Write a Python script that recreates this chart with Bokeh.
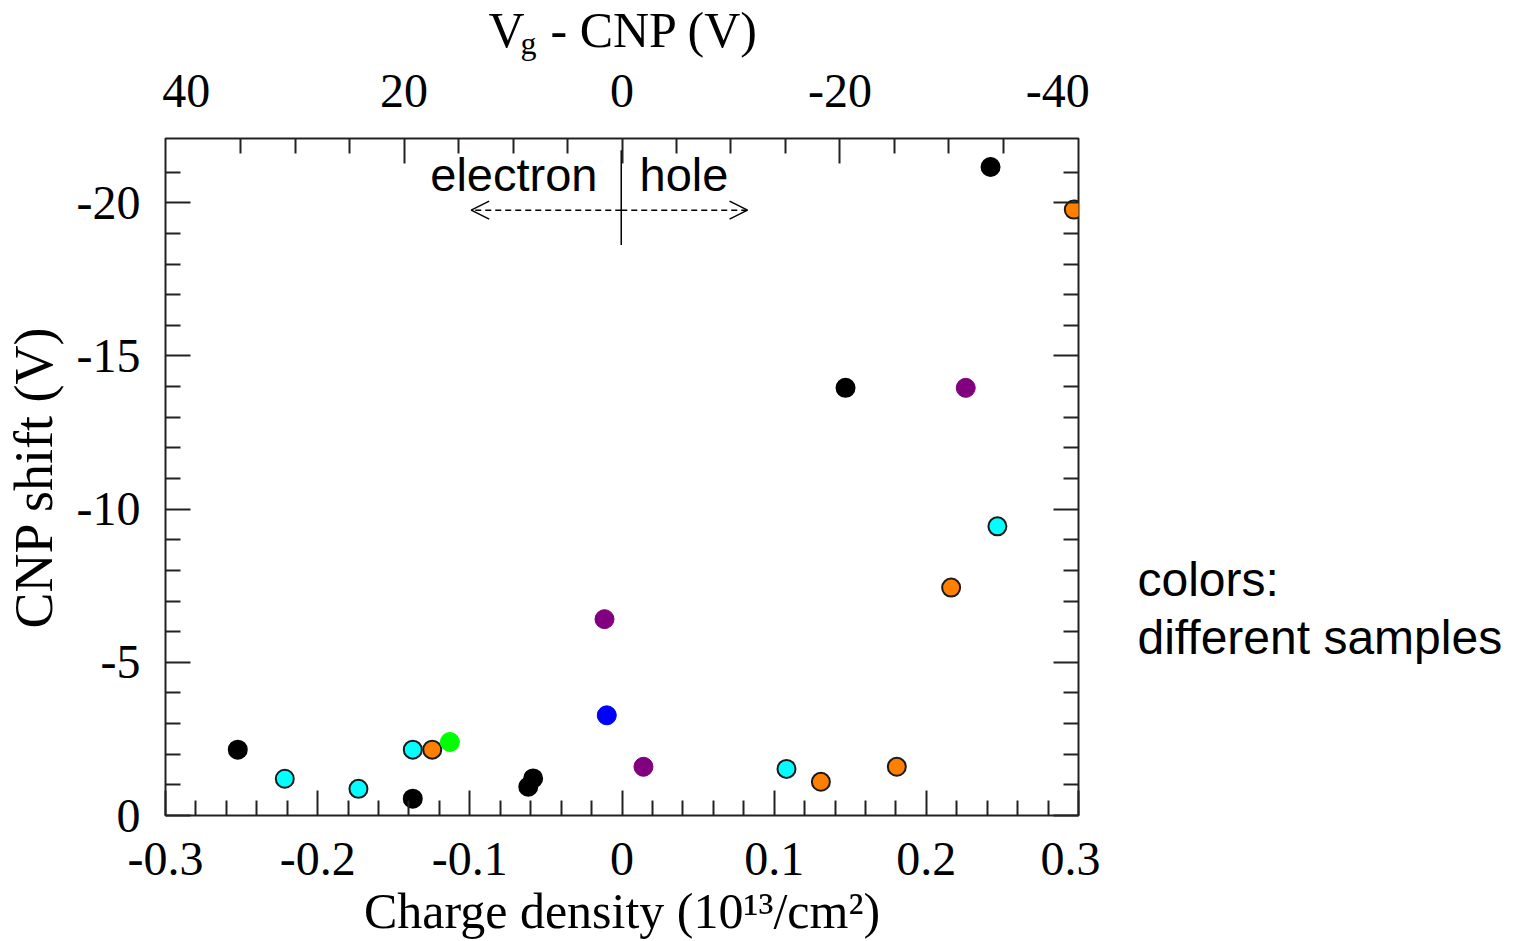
from bokeh.plotting import figure
from bokeh.models import (Range1d, LinearAxis, FixedTicker, Label, Arrow, OpenHead,
                          ColumnDataSource)
from bokeh.layouts import row, column
from bokeh.embed import file_html
from bokeh.resources import INLINE
from bokeh.core.properties import value

# ---------------- data ----------------
black_x = [-0.2525, -0.1375, -0.0616, -0.0584, 0.1469, 0.2422]
black_y = [-2.15, -0.55, -0.94, -1.21, -13.96, -21.17]
cyan_x = [-0.2216, -0.1732, -0.1375, 0.1081, 0.2467]
cyan_y = [-1.20, -0.87, -2.15, -1.52, -9.44]
orange_x = [-0.1247, 0.1307, 0.1806, 0.2163, 0.2969]
orange_y = [-2.15, -1.10, -1.59, -7.44, -19.78]
purple_x = [-0.0115, 0.0141, 0.2259]
purple_y = [-6.41, -1.59, -13.96]
blue_x = [-0.0100]
blue_y = [-3.27]
green_x = [-0.1131]
green_y = [-2.40]

x_major = [-0.3, -0.2, -0.1, 0.0, 0.1, 0.2, 0.3]
x_labels = ["-0.3", "-0.2", "-0.1", "0", "0.1", "0.2", "0.3"]
y_major = [0, -5, -10, -15, -20]
y_labels = ["0", "-5", "-10", "-15", "-20"]
top_major = [40, 20, 0, -20, -40]
top_labels = ["40", "20", "0", "-20", "-40"]
top_tick_major = [20, 0, -20]

# ---------------- styles ----------------
SERIF = "Liberation Serif"
SANS = "Liberation Sans"
AXC = "#222222"

TITLE_H = 62
MAIN_W = 1100
NOTE_W = 1516 - MAIN_W
TOTAL_H = 941
BORDER_L = 165
BORDER_R = 22

# ---------------- main figure ----------------
p = figure(width=MAIN_W, height=TOTAL_H - TITLE_H, output_backend="svg",
           toolbar_location=None,
           x_range=Range1d(-0.3, 0.3), y_range=Range1d(0, -22.1),
           x_axis_location=None, y_axis_location=None,
           min_border_left=BORDER_L, min_border_right=BORDER_R,
           min_border_top=138 - TITLE_H, min_border_bottom=124)
p.extra_x_ranges = {"top": Range1d(41.9, -41.9)}
p.grid.visible = False
p.outline_line_color = AXC
p.outline_line_width = 2
p.background_fill_color = "white"
p.border_fill_color = "white"

x_minor = [round(-0.28 + 0.02 * i, 2) for i in range(29)]
x_minor = [v for v in x_minor if abs(round(v * 10) - v * 10) > 1e-6]
y_minor = [v for v in range(-21, 0) if v % 5 != 0]
top_minor = [v for v in range(-35, 40, 5) if v % 20 != 0]


def style_ticks(ax):
    ax.axis_line_color = None
    ax.major_tick_in = 25
    ax.major_tick_out = 0
    ax.minor_tick_in = 15
    ax.minor_tick_out = 0
    ax.major_tick_line_color = AXC
    ax.minor_tick_line_color = AXC
    ax.major_tick_line_width = 2
    ax.minor_tick_line_width = 2
    ax.major_label_text_font = SERIF
    ax.major_label_text_font_size = "48px"
    ax.major_label_text_color = "black"
    ax.axis_label_text_font = SERIF
    ax.axis_label_text_font_style = "normal"
    ax.axis_label_text_color = "black"


# bottom axis
xb = LinearAxis(ticker=FixedTicker(ticks=x_major, minor_ticks=x_minor))
style_ticks(xb)
xb.major_label_overrides = dict(zip(x_major, x_labels))
xb.major_label_standoff = 27
xb.axis_label = "Charge density (10\u00b9\u00b3/cm\u00b2)"
xb.axis_label_text_font_size = "50px"
xb.axis_label_standoff = 5
p.add_layout(xb, "below")

# left axis
yl = LinearAxis(ticker=FixedTicker(ticks=y_major, minor_ticks=y_minor))
style_ticks(yl)
yl.major_label_overrides = dict(zip(y_major, y_labels))
yl.major_label_standoff = 25
yl.axis_label = "CNP shift (V)"
yl.axis_label_text_font_size = "54px"
yl.axis_label_standoff = 10
p.add_layout(yl, "left")

# right axis (ticks only)
yr = LinearAxis(ticker=FixedTicker(ticks=y_major, minor_ticks=y_minor))
style_ticks(yr)
yr.major_label_text_font_size = "0px"
yr.major_label_overrides = {v: "" for v in y_major}
yr.major_label_standoff = 0
p.add_layout(yr, "right")

# top axis: ticks only (next to frame)
xt_ticks = LinearAxis(x_range_name="top",
                      ticker=FixedTicker(ticks=top_tick_major, minor_ticks=top_minor))
style_ticks(xt_ticks)
xt_ticks.major_label_text_font_size = "0px"
xt_ticks.major_label_overrides = {v: "" for v in top_tick_major}
xt_ticks.major_label_standoff = 0
p.add_layout(xt_ticks, "above")

# top axis: labels only
xt_lab = LinearAxis(x_range_name="top", ticker=FixedTicker(ticks=top_major, minor_ticks=[]))
style_ticks(xt_lab)
xt_lab.major_tick_line_color = None
xt_lab.minor_tick_line_color = None
xt_lab.major_tick_in = 0
xt_lab.minor_tick_in = 0
xt_lab.major_label_overrides = dict(zip(top_major, top_labels))
xt_lab.major_label_standoff = 32
p.add_layout(xt_lab, "above")

# ---------------- points ----------------
series = [
    (black_x, black_y, "black", "black", 18, 2),
    (cyan_x, cyan_y, "#00FFFF", "#1a1a1a", 18, 2),
    (orange_x, orange_y, "#FF8000", "#1a1a1a", 18, 2),
    (purple_x, purple_y, "#800080", "#800080", 19, 1),
    (blue_x, blue_y, "#0000FF", "#0000FF", 19, 1),
    (green_x, green_y, "#00FF00", "#00FF00", 19, 1),
]
for xs, ys, fc, lc, sz, lw in series:
    src = ColumnDataSource(dict(x=xs, y=ys))
    p.scatter("x", "y", source=src, marker="circle", size=sz, fill_color=fc,
              line_color=lc, line_width=lw)

# ---------------- annotations inside the plot ----------------
DIV_X = -0.0005
DIV_Y0, DIV_Y1 = -21.72, -18.62
ARROW_Y = -19.76
ARROW_LEFT, ARROW_RIGHT = -0.0991, 0.0825
TEXT_Y = -20.94

p.segment(x0=[DIV_X], y0=[DIV_Y0], x1=[DIV_X], y1=[DIV_Y1], line_color="black",
          line_width=1.5)
for xe in (ARROW_LEFT, ARROW_RIGHT):
    p.add_layout(Arrow(end=OpenHead(size=18, line_width=1.5, line_color="black"),
                       x_start=DIV_X, y_start=ARROW_Y, x_end=xe, y_end=ARROW_Y,
                       line_dash="6 4", line_width=1.5, line_color="black"))

p.add_layout(Label(x=-0.0161, y=TEXT_Y, text="electron", text_align="right",
                   text_baseline="middle", text_font=SANS, text_font_size="47px",
                   text_color="black"))
p.add_layout(Label(x=0.0115, y=TEXT_Y, text="hole", text_align="left",
                   text_baseline="middle", text_font=SANS, text_font_size="47px",
                   text_color="black"))


def strip(w, h, left=0, right=0):
    # a text-only panel whose data coordinates equal page pixels
    f = figure(width=w, height=h, output_backend="svg", toolbar_location=None,
               x_range=Range1d(left, w - right), y_range=Range1d(h, 0),
               x_axis_location=None, y_axis_location=None,
               min_border_left=left, min_border_right=right,
               min_border_top=0, min_border_bottom=0)
    f.grid.visible = False
    f.outline_line_color = None
    f.background_fill_color = "white"
    f.border_fill_color = "white"
    return f


# ---------------- top title strip: V_g - CNP (V) ----------------
t = strip(MAIN_W, TITLE_H, BORDER_L, BORDER_R)
t.text(x=[488], y=[29], text=["V"], text_font=value(SERIF), text_font_size="50px",
       text_align="left", text_baseline="middle", text_color="black")
t.text(x=[520], y=[42], text=["g"], text_font=value(SERIF), text_font_size="32px",
       text_align="left", text_baseline="middle", text_color="black")
t.text(x=[550], y=[29], text=["- CNP (V)"], text_font=value(SERIF),
       text_font_size="50px", text_align="left", text_baseline="middle",
       text_color="black")

# ---------------- side note strip ----------------
n = strip(NOTE_W, TOTAL_H)
n.text(x=[37, 37], y=[579, 637], text=["colors:", "different samples"],
       text_font=value(SANS), text_font_size="48px", text_align="left",
       text_baseline="middle", text_color="black")

layout = row(column(t, p, spacing=0), n, spacing=0)
open("out.html", "w").write(file_html(layout, INLINE))
